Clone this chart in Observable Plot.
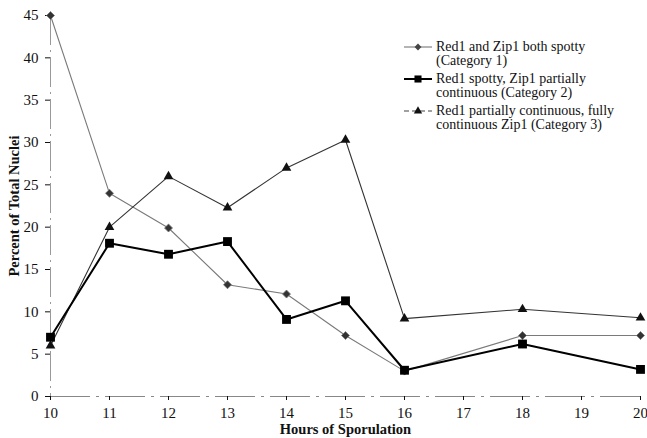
<!DOCTYPE html>
<html><head><meta charset="utf-8">
<script src="https://cdn.jsdelivr.net/npm/d3@7"></script>
<script src="https://cdn.jsdelivr.net/npm/@observablehq/plot@0.6"></script>
<style>
body{margin:0;background:#fff;}
#wrap{position:relative;width:647px;height:438px;font-family:"Liberation Serif","DejaVu Serif",serif;}
#legend{position:absolute;left:404px;top:40px;font-size:14px;line-height:14px;color:#111;}
.item{display:flex;align-items:flex-start;margin-bottom:4px;}
.item svg{flex:none;margin-top:1px;margin-right:4px;}
</style></head>
<body><div id="wrap"><div id="chart"></div><div id="legend"></div></div>
<script>
const hours = [10, 11, 12, 13, 14, 15, 16, 18, 20];
const cat1 = [45, 24, 19.9, 13.2, 12.1, 7.2, 3.0, 7.2, 7.2];
const cat2 = [7.0, 18.1, 16.8, 18.3, 9.1, 11.3, 3.1, 6.2, 3.2];
const cat3 = [6.0, 20.0, 26.0, 22.3, 27.0, 30.3, 9.2, 10.3, 9.3];
const seriesNames = [
  ["Red1 and Zip1 both spotty", "(Category 1)"],
  ["Red1 spotty, Zip1 partially", "continuous (Category 2)"],
  ["Red1 partially continuous, fully", "continuous Zip1 (Category 3)"]
];
const xTicks = [10, 11, 12, 13, 14, 15, 16, 17, 18, 19, 20];
const yTicks = [0, 5, 10, 15, 20, 25, 30, 35, 40, 45];

const d1 = hours.map((h, i) => ({h, v: cat1[i]}));
const d2 = hours.map((h, i) => ({h, v: cat2[i]}));
const d3_ = hours.map((h, i) => ({h, v: cat3[i]}));

const chart = Plot.plot({
  width: 647, height: 438,
  marginLeft: 50, marginRight: 7, marginTop: 15, marginBottom: 42,
  style: {fontFamily: '"Liberation Serif", serif', fontSize: "15px", color: "#111", background: "#fff"},
  x: {domain: [10, 20]},
  y: {domain: [0, 45]},
  marks: [
    Plot.ruleY([0], {stroke: "#888", strokeWidth: 1, strokeDasharray: "40,6,3,6"}),
    Plot.ruleX([10], {stroke: "#999", strokeWidth: 1, strokeDasharray: "30,5,2,5"}),
    Plot.axisX({ticks: xTicks, tickSize: 4, tickPadding: 7, tickFormat: d => d, label: "Hours of Sporulation", labelAnchor: "center", labelArrow: "none", labelOffset: 37, fontSize: 15}),
    Plot.axisY({ticks: yTicks, tickSize: 5, tickPadding: 7, label: "Percent of Total Nuclei", labelAnchor: "center", labelArrow: "none", labelOffset: 42, fontSize: 15}),
    Plot.line(d1, {x: "h", y: "v", stroke: "#7a7a7a", strokeWidth: 1.1}),
    Plot.line(d3_, {x: "h", y: "v", stroke: "#333", strokeWidth: 1.1}),
    Plot.line(d2, {x: "h", y: "v", stroke: "#000", strokeWidth: 2}),
    Plot.dot(d1, {x: "h", y: "v", symbol: "diamond2", r: 3.6, fill: "#333", stroke: "#777", strokeWidth: 0.8}),
    Plot.dot(d3_, {x: "h", y: "v", symbol: "triangle", r: 3.6, fill: "#111"}),
    Plot.dot(d2, {x: "h", y: "v", symbol: "square", r: 5, fill: "#000"})
  ]
});
d3.select(chart).selectAll("[aria-label='x-axis label'] text, [aria-label='y-axis label'] text").style("font-weight", "bold").style("font-size", "14.5px");
document.getElementById("chart").appendChild(chart);

// Legend
const legendSpecs = [
  {stroke: "#777", sw: 1.1, sym: "diamond", fill: "#444", dash: null},
  {stroke: "#000", sw: 2, sym: "square", fill: "#000", dash: null},
  {stroke: "#444", sw: 1.1, sym: "triangle", fill: "#111", dash: "5,3"}
];
const legend = d3.select("#legend");
legendSpecs.forEach((s, i) => {
  const item = legend.append("div").attr("class", "item");
  const svg = item.append("svg").attr("width", 28).attr("height", 12);
  svg.append("line").attr("x1", 0).attr("x2", 28).attr("y1", 6).attr("y2", 6)
    .attr("stroke", s.stroke).attr("stroke-width", s.sw).attr("stroke-dasharray", s.dash);
  const path = d3.symbol().type(s.sym === "diamond" ? d3.symbolDiamond2 : s.sym === "square" ? d3.symbolSquare : d3.symbolTriangle).size(s.sym === "square" ? 50 : 30)();
  svg.append("path").attr("d", path).attr("transform", "translate(14,6)").attr("fill", s.fill);
  const txt = item.append("div");
  txt.append("div").text(seriesNames[i][0]);
  txt.append("div").text(seriesNames[i][1]);
});
</script></body></html>
